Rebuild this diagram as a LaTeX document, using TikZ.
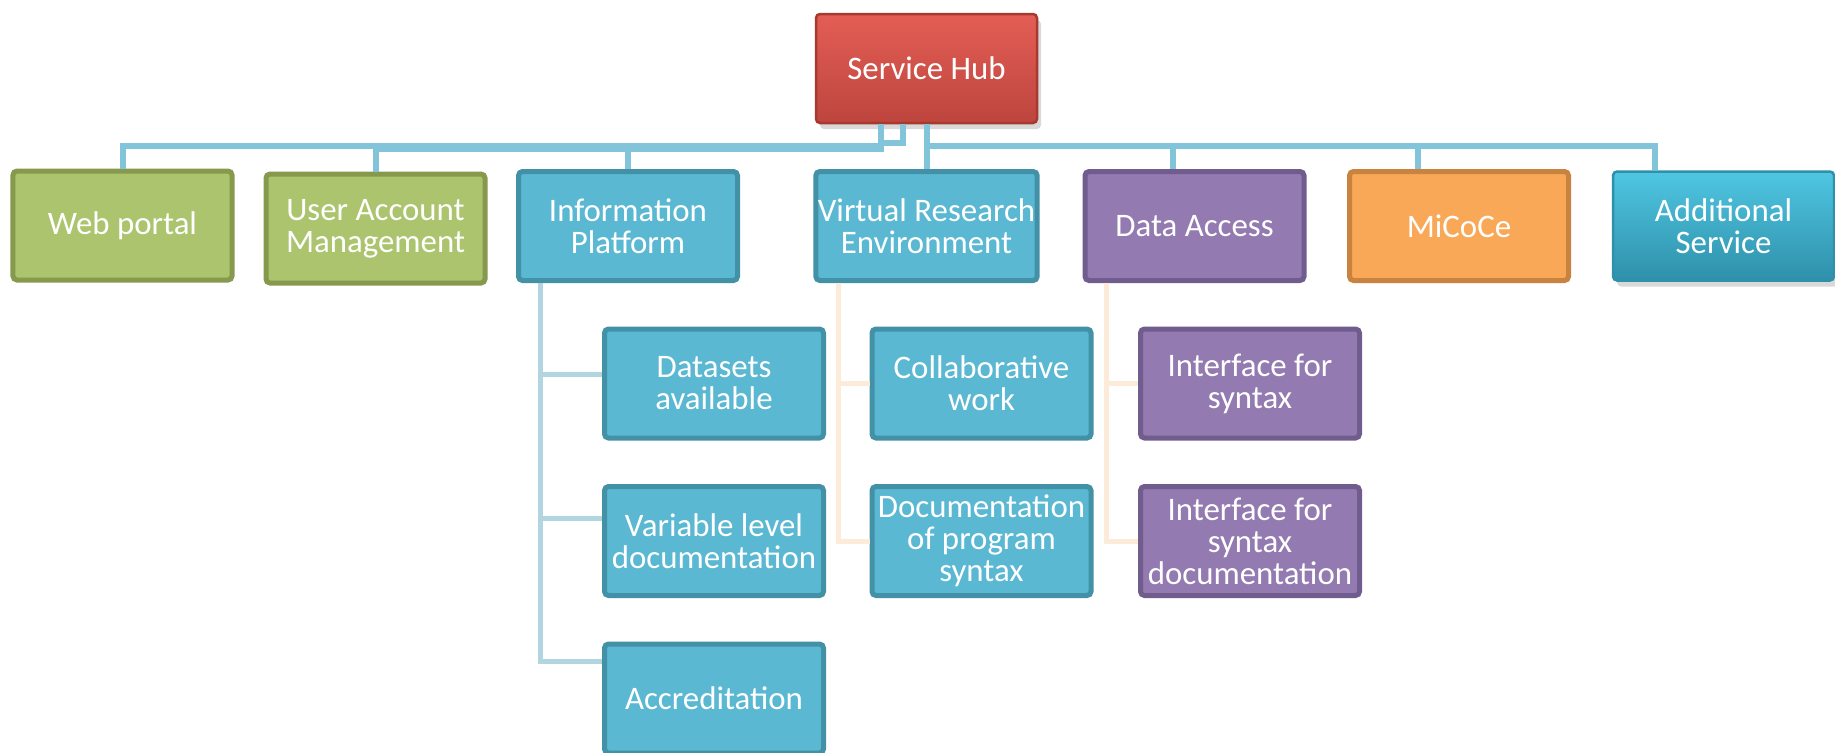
\documentclass[tikz,border=0pt]{standalone}
\usepackage{fontspec}
\setmainfont{Carlito}
\usetikzlibrary{shadows}
\definecolor{hubtop}{HTML}{E35E55}
\definecolor{hubbottom}{HTML}{BD453E}
\definecolor{hubedge}{HTML}{A8392F}
\definecolor{greenfill}{HTML}{ABC46D}
\definecolor{greenedge}{HTML}{86994D}
\definecolor{bluefill}{HTML}{5BB8D2}
\definecolor{blueedge}{HTML}{4391A6}
\definecolor{purplefill}{HTML}{937AB0}
\definecolor{purpleedge}{HTML}{715C8E}
\definecolor{orangefill}{HTML}{F9A857}
\definecolor{orangeedge}{HTML}{C98341}
\definecolor{extratop}{HTML}{4FC6E2}
\definecolor{extrabottom}{HTML}{2F90AA}
\definecolor{busblue}{HTML}{82C4D9}
\definecolor{paleblue}{HTML}{B1D6E1}
\definecolor{peach}{HTML}{FDEBD9}
\tikzset{%
  % Specifications for style of nodes:
            base/.style = {rectangle, rounded corners=0.4mm, line width=0.5mm,
                           minimum width=21.9mm, minimum height=10.9mm, inner sep=0.2mm,
                           text centered, text=white, align=center,
                           font=\fontsize{9.35}{9.1}\selectfont},
  hub/.style = {base, line width=0.25mm, minimum width=22.1mm, minimum height=10.9mm,
                top color=hubtop, bottom color=hubbottom, draw=hubedge,
                drop shadow={shadow xshift=0.4mm, shadow yshift=-0.6mm, opacity=0.3}},
       portal/.style = {base, fill=greenfill, draw=greenedge},
      service/.style = {base, fill=bluefill, draw=blueedge},
       access/.style = {base, fill=purplefill, draw=purpleedge},
       micoce/.style = {base, fill=orangefill, draw=orangeedge},
        extra/.style = {hub, top color=extratop, bottom color=extrabottom, draw=extrabottom},
  % Specifications for style of connectors:
      hubline/.style = {draw=busblue, line width=0.6mm},
     infoline/.style = {draw=paleblue, line width=0.5mm},
    peachline/.style = {draw=peach, line width=0.5mm},
}
\begin{document}
\begin{tikzpicture}[x=0.1mm, y=-0.1mm, node distance=15.75mm]
\useasboundingbox (-926.5,-68.5) rectangle (908.5,683.5);
% Specification of nodes (position, etc.)
\node (hub)       [hub]                                     {Service Hub};
\node (vre)       [service, below of=hub]                   {Virtual Research\\Environment};
\node (info)      [service, left of=vre, xshift=-14.1mm]    {Information\\Platform};
\node (uam)       [portal, left of=info, xshift=-9.5mm, yshift=-0.25mm]
                                                            {User Account\\Management};
\node (web)       [portal, left of=uam, xshift=-9.55mm, yshift=0.3mm]
                                                            {Web portal};
\node (access)    [access, right of=vre, xshift=11.05mm]    {Data Access};
\node (micoce)    [micoce, right of=access, xshift=10.7mm]  {MiCoCe};
\node (extra)     [extra, right of=micoce, xshift=10.7mm]   {Additional\\Service};
\node (datasets)  [service, below of=info, xshift=8.6mm]    {Datasets\\available};
\node (varlevel)  [service, below of=datasets]              {Variable level\\documentation};
\node (accred)    [service, below of=varlevel]              {Accreditation};
\node (collab)    [service, below of=vre, xshift=5.5mm]     {Collaborative\\work};
\node (progdoc)   [service, below of=collab]                {Documentation\\of program\\syntax};
\node (syntax)    [access, below of=access, xshift=5.55mm]  {Interface for\\syntax};
\node (syntaxdoc) [access, below of=syntax]                 {Interface for\\syntax\\documentation};
% Specification of lines between nodes specified above
\draw[hubline] ([xshift=-4.55mm]hub.south) -- ++(0,22) -| (web.north);
\draw[hubline] ([xshift=-4.55mm]hub.south) -- ++(0,25) -| (uam.north);
\draw[hubline] ([xshift=-4.55mm]hub.south) -- ++(0,25) -| (info.north);
\draw[hubline] ([xshift=-2.4mm]hub.south) |- ++(-21,19);
\draw[hubline] (hub.south) -- (vre.north);
\draw[hubline] (hub.south) -- ++(0,22) -| ([xshift=-2.15mm]access.north);
\draw[hubline] (hub.south) -- ++(0,22) -| ([xshift=-4.1mm]micoce.north);
\draw[hubline] (hub.south) -- ++(0,22) -| ([xshift=-6.85mm]extra.north);
\draw[infoline] ([xshift=-8.8mm]info.south) |- ([yshift=0.9mm]datasets.west);
\draw[infoline] ([xshift=-8.8mm]info.south) |- ([yshift=2.25mm]varlevel.west);
\draw[infoline] ([xshift=-8.8mm]info.south) |- ([yshift=3.7mm]accred.west);
\draw[peachline] ([xshift=-8.85mm]vre.south) |- (collab.west);
\draw[peachline] ([xshift=-8.85mm]vre.south) |- (progdoc.west);
\draw[peachline] ([xshift=-8.85mm]access.south) |- (syntax.west);
\draw[peachline] ([xshift=-8.85mm]access.south) |- (syntaxdoc.west);
\end{tikzpicture}
\end{document}
